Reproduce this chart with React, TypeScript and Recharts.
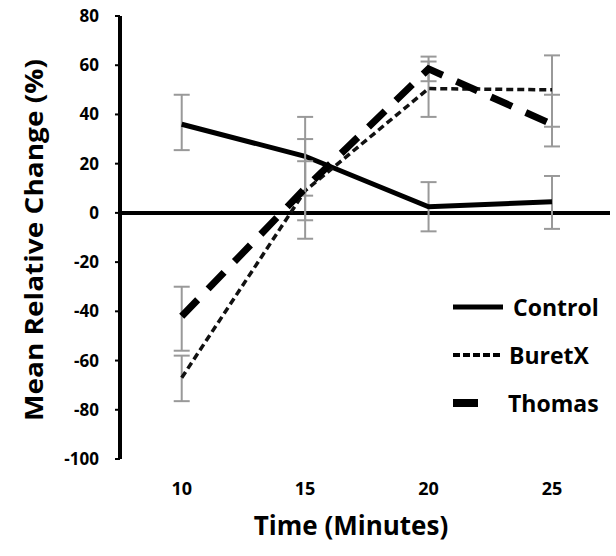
import { ErrorBar, Legend, Line, LineChart, ReferenceLine, XAxis, YAxis } from 'recharts'

const times = [10, 15, 20, 25]
const control = [36, 23, 2.5, 4.5]
const buretX = [-67, 9, 50.5, 50]
const thomas = [-42, 10, 58.5, 36]

// [below, above] error amounts
const controlErr = [[10.5, 12], [16, 16], [10, 10], [11, 10.5]]
const buretXErr = [[9.5, 9], [12, 12], [11.5, 11], [15, 14]]
const thomasErr = [[14, 12], [20.5, 20], [5, 5], [9, 12]]

const yTicks = [-100, -80, -60, -40, -20, 0, 20, 40, 60, 80]

const data = times.map((t, i) => ({
    time: t,
    control: control[i],
    buretX: buretX[i],
    thomas: thomas[i],
    controlErr: controlErr[i],
    buretXErr: buretXErr[i],
    thomasErr: thomasErr[i],
}))

const font = '"Open Sans", "Liberation Sans", sans-serif'

const legendItems = [
    { name: 'Control', width: 5, dash: undefined, len: 50, gap: 10 },
    { name: 'BuretX', width: 4, dash: '7 3', len: 47, gap: 9 },
    { name: 'Thomas', width: 8, dash: undefined, len: 25, gap: 30 },
]

const LegendBox = () => (
    <div style={{ fontFamily: font, fontWeight: 700, fontSize: 23, color: '#000', lineHeight: 1 }}>
        {legendItems.map((it) => (
            <div key={it.name} style={{ display: 'flex', alignItems: 'center', height: 48 }}>
                <svg width={it.len + it.gap} height={12}>
                    <line x1={0} x2={it.len} y1={6} y2={6} stroke="#000" strokeWidth={it.width} strokeDasharray={it.dash} />
                </svg>
                <span>{it.name}</span>
            </div>
        ))}
    </div>
)

const YLabel = () => (
    <text x={33} y={240} transform="rotate(-90 33 240)" textAnchor="middle" dominantBaseline="central"
        textLength={362} lengthAdjust="spacingAndGlyphs"
        style={{ fontFamily: font, fontWeight: 700, fontSize: 25, fill: '#000' }}>
        Mean Relative Change (%)
    </text>
)

const XLabel = () => (
    <text x={351} y={535} textAnchor="middle"
        style={{ fontFamily: font, fontWeight: 700, fontSize: 26, fill: '#000' }}>
        Time (Minutes)
    </text>
)

const App = () => {
    return (
        <div style={{ position: 'absolute', left: 0, top: 0, background: '#fff' }}>
            <LineChart width={616} height={556} data={data} margin={{ top: 16, right: 6, left: 0, bottom: 0 }}>
                <XAxis
                    dataKey="time"
                    type="number"
                    domain={[7.5, 27.35]}
                    ticks={times}
                    height={97}
                    axisLine={false}
                    tickLine={false}
                    tickMargin={17}
                    tick={{ fontSize: 18, fontWeight: 700, fill: '#000', fontFamily: font }}
                    label={<XLabel />}
                />
                <YAxis
                    domain={[-100, 80]}
                    ticks={yTicks}
                    width={120}
                    axisLine={{ stroke: '#000', strokeWidth: 4 }}
                    tickLine={{ stroke: '#000', strokeWidth: 2 }}
                    tickSize={5}
                    tickMargin={16}
                    tick={{ fontSize: 17, fontWeight: 700, fill: '#000', fontFamily: font }}
                    label={<YLabel />}
                />
                <ReferenceLine y={0} stroke="#000" strokeWidth={4} />
                <Line type="linear" dataKey="control" stroke="#000" strokeWidth={5} dot={false} isAnimationActive={false}>
                    <ErrorBar dataKey="controlErr" stroke="#999" strokeWidth={2} width={8} isAnimationActive={false} />
                </Line>
                <Line type="linear" dataKey="buretX" stroke="#111" strokeWidth={3.5} strokeDasharray="7 4" dot={false} isAnimationActive={false}>
                    <ErrorBar dataKey="buretXErr" stroke="#999" strokeWidth={2} width={8} isAnimationActive={false} />
                </Line>
                <Line type="linear" dataKey="thomas" stroke="#000" strokeWidth={7} strokeDasharray="23 15" dot={false} isAnimationActive={false}>
                    <ErrorBar dataKey="thomasErr" stroke="#999" strokeWidth={2} width={8} isAnimationActive={false} />
                </Line>
                <Legend
                    layout="vertical"
                    align="center"
                    verticalAlign="middle"
                    content={<LegendBox />}
                    wrapperStyle={{ position: 'absolute', left: 453, top: 283, width: 163 }}
                />
            </LineChart>
        </div>
    )
}

export default App
